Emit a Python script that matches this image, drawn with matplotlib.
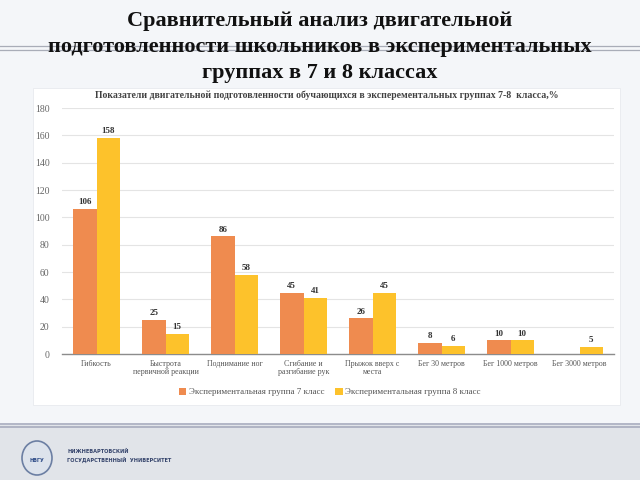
import matplotlib
matplotlib.use('Agg')
import matplotlib.pyplot as plt
import numpy as np
from matplotlib.patches import Rectangle, Ellipse

categories = ['Гибкость', 'Быстрота\nпервичной реакции', 'Поднимание ног',
              'Сгибание и\nразгибание рук', 'Прыжок вверх с\nместа',
              'Бег 30 метров', 'Бег 1000 метров', 'Бег 3000 метров']
grade7 = [106, 25, 86, 45, 26, 8, 10, None]
grade8 = [158, 15, 58, 41, 45, 6, 10, 5]
yticks = [0, 20, 40, 60, 80, 100, 120, 140, 160, 180]

serif = ['Liberation Serif', 'DejaVu Serif']
orange = '#EF8B4F'
yellow = '#FDC22B'

fig = plt.figure(figsize=(6.4, 4.8), dpi=100)
fig.patch.set_facecolor('#F4F6F9')

# white chart panel, footer, decorative lines
fig.patches.append(Rectangle((33 / 640, 1 - 405 / 480), 587 / 640, 317 / 480,
                             transform=fig.transFigure, facecolor='white',
                             edgecolor='#E8EAEE', lw=0.6, zorder=0))
fig.patches.append(Rectangle((0, 0), 1, 55 / 480, transform=fig.transFigure,
                             facecolor='#E1E4E9', edgecolor='none', zorder=0))
for y in (46, 50):
    fig.add_artist(plt.Line2D([0, 1], [1 - y / 480] * 2, color='#A9ADB8', lw=0.9, zorder=0))
for y in (424, 427):
    fig.add_artist(plt.Line2D([0, 1], [1 - y / 480] * 2, color='#A7ABBD', lw=1.2, zorder=1))

fig.text(0.5, 1 - 47 / 480,
         'Сравнительный анализ двигательной\nподготовленности школьников в экспериментальных\nгруппах в 7 и 8 классах',
         ha='center', va='center', fontsize=16, fontweight='bold', family=serif,
         color='#111111', linespacing=1.42, zorder=3)

ax = fig.add_axes([62 / 640, 1 - 354 / 480, 552 / 640, 246 / 480])
ax.set_zorder(2)
x = np.arange(len(categories))
w = 0.34
v7 = [v if v is not None else 0 for v in grade7]
b7 = ax.bar(x - w / 2, v7, w, color=orange, label='Экспериментальная группа 7 класс', zorder=3)
b8 = ax.bar(x + w / 2, grade8, w, color=yellow, label='Экспериментальная группа 8 класс', zorder=3)
for rect, v in zip(b7, grade7):
    if v is not None:
        ax.text(rect.get_x() + rect.get_width() / 2, v + 2, str(v), ha='center', va='bottom',
                fontsize=6.5, fontweight='bold', family=serif, color='#333333')
for rect, v in zip(b8, grade8):
    ax.text(rect.get_x() + rect.get_width() / 2, v + 2, str(v), ha='center', va='bottom',
            fontsize=6.5, fontweight='bold', family=serif, color='#333333')

ax.set_ylim(0, 180)
ax.set_xlim(-0.5, len(categories) - 0.5)
ax.set_yticks(yticks)
ax.set_xticks(x)
ax.set_xticklabels(categories, fontsize=5.7, family=serif, color='#555555', linespacing=1.0)
ax.tick_params(axis='y', labelsize=7, labelcolor='#666666', length=0, pad=9)
ax.tick_params(axis='x', length=0, pad=4)
for lbl in ax.get_yticklabels():
    lbl.set_family(serif)
ax.grid(axis='y', color='#E4E4E4', lw=0.8, zorder=0)
for s in ['top', 'right', 'left']:
    ax.spines[s].set_visible(False)
ax.spines['bottom'].set_color('#8C8C8C')
ax.spines['bottom'].set_linewidth(1.0)
ax.set_facecolor('white')

fig.text(327 / 640, 1 - 95 / 480,
         'Показатели двигательной подготовленности обучающихся в эксперементальных группах 7-8  класса,%',
         ha='center', va='center', fontsize=7, fontweight='bold', family=serif, color='#404040',
         zorder=3)

leg = ax.legend(loc='center', bbox_to_anchor=(330 / 640, 1 - 392 / 480),
                bbox_transform=fig.transFigure, ncol=2, frameon=False,
                prop={'family': serif, 'size': 6.5}, handlelength=0.8, handleheight=0.8,
                columnspacing=1.2, handletextpad=0.3)
for t in leg.get_texts():
    t.set_color('#555555')

# footer logo
fig.patches.append(Ellipse((37 / 640, 1 - 458 / 480), 30 / 640, 34 / 480, transform=fig.transFigure,
                           facecolor='#DDE3EC', edgecolor='#6C7FA3', lw=1.2, zorder=2))
fig.text(37 / 640, 1 - 461 / 480, 'НВГУ', ha='center', va='center', fontsize=3.5,
         fontweight='bold', color='#2C4A86', zorder=3)
fig.text(67 / 640, 1 - 451 / 480, 'НИЖНЕВАРТОВСКИЙ', ha='left', va='center', fontsize=3.6,
         fontweight='bold', color='#34436B')
fig.text(67 / 640, 1 - 460 / 480, 'ГОСУДАРСТВЕННЫЙ  УНИВЕРСИТЕТ', ha='left', va='center',
         fontsize=3.6, fontweight='bold', color='#34436B')

fig.savefig('out.png', dpi=100, facecolor=fig.get_facecolor())
